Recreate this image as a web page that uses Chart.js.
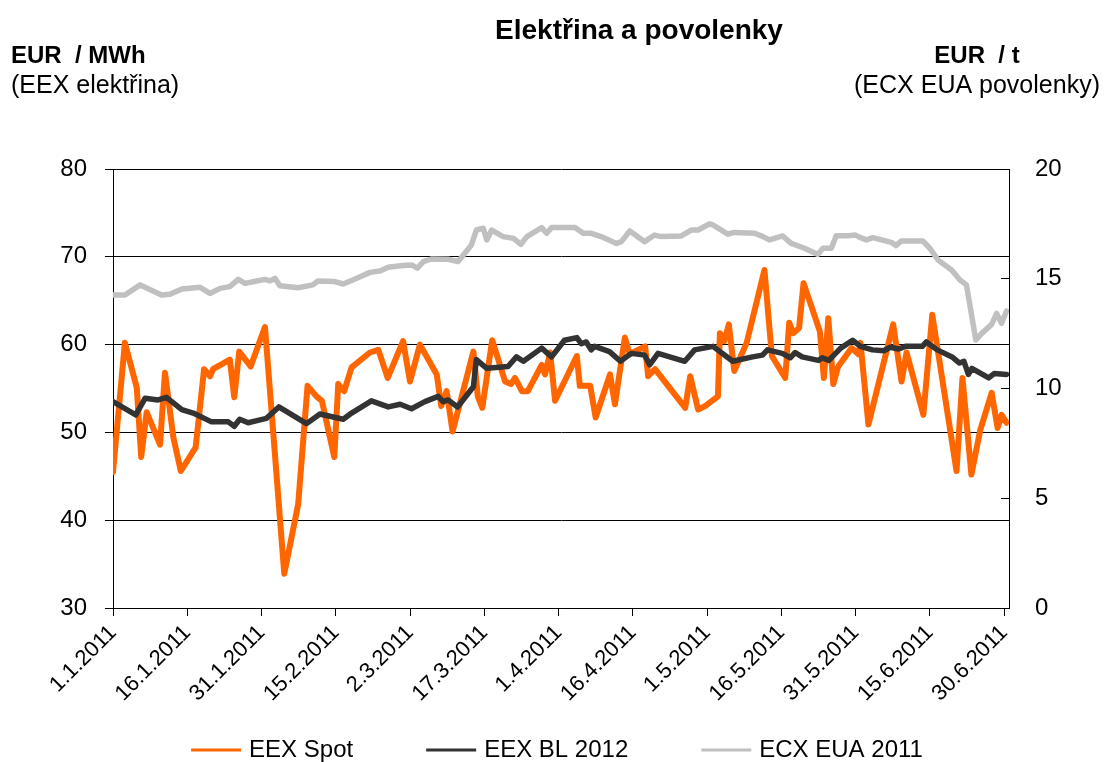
<!DOCTYPE html>
<html><head><meta charset="utf-8">
<script src="https://cdn.jsdelivr.net/npm/chart.js@4.4.1/dist/chart.umd.min.js"></script>
<style>html,body{margin:0;padding:0;overflow:hidden;background:#fff;width:1107px;height:762px}</style>
</head><body><canvas id="c" width="1107" height="762"></canvas>
<script>
// x = days since 1.1.2011
const tickDays = [0,15,30,45,60,75,90,105,120,135,150,165,180];
const tickLabels = ['1.1.2011','16.1.2011','31.1.2011','15.2.2011','2.3.2011','17.3.2011','1.4.2011','16.4.2011','1.5.2011','16.5.2011','31.5.2011','15.6.2011','30.6.2011'];
const leftTicks = [30,40,50,60,70,80];
const rightTicks = [0,5,10,15,20];
const seriesNames = ['EEX Spot','EEX BL 2012','ECX EUA 2011'];

const spotDays = [0,2.4,4.8,5.7,6.8,9.5,10.5,12.2,13.7,16.7,18.4,19.6,20.2,23.6,24.5,25.5,27.8,30.7,34.6,37.4,39.3,41.1,42.2,44.7,45.5,46.7,48.2,51.9,53.6,55.5,58.6,60.0,62.0,65.4,66.3,67.4,68.6,72.8,73.7,74.6,76.6,79.2,80.4,81.2,82.6,83.8,86.6,87.3,88.3,89.3,93.7,94.3,96.4,97.5,100.4,101.4,103.4,104.4,107.5,108.1,109.5,115.6,116.6,118.2,119.6,122.2,122.6,123.5,124.4,125.5,128.0,131.6,133.1,135.8,136.6,137.4,138.6,139.5,142.8,143.6,144.5,145.5,146.5,149.2,150.6,151.0,152.6,157.6,159.3,160.3,163.7,165.5,170.4,171.6,173.4,175.2,177.5,178.7,179.5,180.5];
const spotValues = [45.5,60.2,55.1,47.2,52.3,48.6,56.8,49.4,45.6,48.3,57.2,56.4,57.2,58.3,54.0,59.2,57.5,62.0,33.9,41.8,55.3,54.1,53.6,47.2,55.5,54.7,57.4,59.1,59.4,56.2,60.4,55.8,60.0,56.6,53.0,54.7,50.1,59.2,54.1,52.8,60.5,55.8,55.5,56.2,54.7,54.7,57.7,56.6,59.1,53.6,58.7,55.3,55.3,51.7,56.6,53.2,60.8,58.9,59.8,56.4,57.2,52.8,56.4,52.6,53.0,54.1,61.3,60.4,62.3,57.0,60.2,68.5,58.7,56.2,62.5,61.3,61.9,67.0,61.5,56.2,63.0,55.5,57.5,59.6,58.9,60.2,50.9,62.3,55.8,59.1,52.0,63.4,45.6,56.2,45.2,50.3,54.5,50.5,52.0,51.1];

const blDays = [0,4.6,6.5,9.1,10.8,13.9,16.2,19.9,23.3,24.5,25.6,27.3,29.5,31.0,33.5,39.1,41.8,46.5,48.2,52.2,55.6,58.0,60.3,63.0,65.7,66.7,67.7,69.6,72.8,73.4,75.5,79.8,81.5,82.9,86.6,88.6,91.2,93.7,94.6,95.6,96.6,97.3,100.3,102.5,104.7,107.4,108.4,110.1,115.5,117.5,121.2,125.2,129.2,131.2,132.2,135.2,136.8,137.8,139.2,142.5,143.3,144.6,147.0,149.4,151.0,153.4,155.7,157.0,158.7,160.1,163.5,164.3,166.5,169.5,171.0,171.9,172.8,173.5,176.9,178.0,180.5];
const blValues = [53.5,52.0,53.9,53.7,54.0,52.6,52.2,51.2,51.2,50.7,51.5,51.1,51.4,51.6,52.9,51.0,52.1,51.5,52.2,53.6,52.9,53.2,52.7,53.5,54.1,53.5,53.7,52.9,55.2,58.3,57.3,57.5,58.6,58.1,59.6,58.6,60.5,60.8,60.1,60.3,59.4,59.8,59.2,58.1,59.0,58.8,57.7,59.0,58.1,59.4,59.8,58.1,58.6,58.8,59.4,59.0,58.5,59.1,58.6,58.2,58.5,58.2,59.6,60.5,59.8,59.4,59.3,59.7,59.5,59.8,59.8,60.3,59.4,58.6,57.9,58.1,56.6,57.3,56.2,56.7,56.6];

const euaDays = [0,2.4,5.5,9.8,11.5,13.9,17.6,19.6,21.6,23.6,25.3,26.7,29.0,30.7,31.7,32.7,33.7,37.4,40.4,41.4,44.8,46.5,48.9,51.9,53.9,55.6,58.5,60.3,61.5,62.7,64.3,67.7,69.7,72.4,73.4,74.8,75.5,76.5,78.8,80.9,82.4,83.6,86.6,87.6,88.6,93.3,95.0,96.6,98.6,101.7,102.7,104.4,107.4,109.4,110.8,114.8,116.8,118.2,120.5,121.2,124.2,125.5,129.6,131.3,132.6,135.3,137.0,139.7,142.4,143.4,145.1,146.1,148.5,150.0,151.0,152.2,153.5,157.2,158.2,159.2,163.6,165.0,166.7,169.4,171.1,172.4,174.3,175.5,177.5,178.5,179.5,180.5];
const euaValues = [14.26,14.26,14.72,14.26,14.29,14.53,14.61,14.33,14.56,14.64,14.97,14.79,14.90,14.97,14.90,15.02,14.68,14.59,14.72,14.90,14.87,14.76,14.99,15.29,15.35,15.52,15.60,15.63,15.48,15.78,15.90,15.89,15.78,16.54,17.22,17.30,16.77,17.22,16.92,16.84,16.57,16.92,17.33,17.07,17.33,17.34,17.07,17.07,16.92,16.61,16.69,17.18,16.69,16.99,16.92,16.95,17.22,17.22,17.50,17.45,17.03,17.11,17.07,16.92,16.77,16.95,16.61,16.39,16.11,16.39,16.39,16.96,16.96,16.99,16.87,16.77,16.87,16.66,16.51,16.72,16.72,16.39,15.85,15.40,14.94,14.72,12.21,12.51,12.92,13.42,12.97,13.53];

const pts = (xs, ys) => xs.map((x, i) => ({x: x, y: ys[i]}));
const FONT = "'Liberation Sans', Arial, sans-serif";
Chart.defaults.font.family = FONT;
Chart.defaults.color = '#000';

const headerPlugin = {
  id: 'header',
  afterDraw(chart) {
    const ctx = chart.ctx;
    ctx.save();
    ctx.fillStyle = '#000';
    ctx.textBaseline = 'alphabetic';
    ctx.font = 'bold 28px ' + FONT;
    ctx.textAlign = 'center';
    ctx.fillText('Elektřina a povolenky', 639, 39);
    ctx.textAlign = 'left';
    ctx.font = 'bold 24px ' + FONT;
    ctx.fillText('EUR  / MWh', 11, 63);
    ctx.font = '25px ' + FONT;
    ctx.fillText('(EEX elektřina)', 11, 93);
    ctx.textAlign = 'center';
    ctx.font = 'bold 24px ' + FONT;
    ctx.fillText('EUR  / t', 977, 63);
    ctx.font = '25px ' + FONT;
    ctx.fillText('(ECX EUA povolenky)', 977, 93);
    ctx.restore();
  }
};

// Legend drawn from the chart's own datasets (line sample + label)
const legendPlugin = {
  id: 'lineLegend',
  afterDraw(chart) {
    const ctx = chart.ctx;
    const ds = chart.data.datasets;
    const sample = 50, gapText = 8, gapItem = 73, cy = 750;
    ctx.save();
    ctx.font = '24px ' + FONT;
    ctx.textBaseline = 'middle';
    ctx.textAlign = 'left';
    const widths = ds.map(d => ctx.measureText(d.label).width);
    const total = widths.reduce((a, w) => a + sample + gapText + w, 0) + gapItem * (ds.length - 1);
    let x = 557 - total / 2;
    ds.forEach((d, i) => {
      ctx.fillStyle = d.borderColor;
      ctx.fillRect(x, cy - 1.5, sample, 3);
      ctx.fillStyle = '#000';
      ctx.fillText(d.label, x + sample + gapText, cy);
      x += sample + gapText + widths[i] + gapItem;
    });
    ctx.restore();
  }
};

new Chart(document.getElementById('c'), {
  type: 'line',
  data: {
    datasets: [
      {label: seriesNames[0], data: pts(spotDays, spotValues), yAxisID: 'y', borderColor: '#FF6600', backgroundColor: '#FF6600', borderWidth: 6, order: 2},
      {label: seriesNames[1], data: pts(blDays, blValues), yAxisID: 'y', borderColor: '#333333', backgroundColor: '#333333', borderWidth: 5.5, order: 1},
      {label: seriesNames[2], data: pts(euaDays, euaValues), yAxisID: 'y1', borderColor: '#C0C0C0', backgroundColor: '#C0C0C0', borderWidth: 5.5, order: 0}
    ]
  },
  options: {
    responsive: false,
    animation: false,
    devicePixelRatio: 1,
    layout: {autoPadding: false, padding: {top: 169, left: 0, right: 0, bottom: 24}},
    elements: {
      point: {radius: 0, hoverRadius: 0},
      line: {tension: 0, fill: false, borderJoinStyle: 'round', borderCapStyle: 'round'}
    },
    plugins: {
      tooltip: {enabled: false},
      title: {display: false},
      legend: {display: false}
    },
    scales: {
      x: {
        type: 'linear',
        min: 0, max: 181,
        afterBuildTicks: (s) => { s.ticks = tickDays.map(v => ({value: v})); },
        afterFit: (s) => { s.height = 130; },
        ticks: {
          autoSkip: false, minRotation: 45, maxRotation: 45, padding: 4,
          font: {size: 22},
          callback: (v) => { const i = tickDays.indexOf(v); return i >= 0 ? tickLabels[i] : ''; }
        },
        grid: {drawOnChartArea: false, drawTicks: true, tickLength: 8, color: '#000'},
        border: {display: true, color: '#000', width: 1}
      },
      y: {
        position: 'left',
        min: 30, max: 80,
        afterBuildTicks: (s) => { s.ticks = leftTicks.map(v => ({value: v})); },
        afterFit: (s) => { s.width = 113; },
        ticks: {font: {size: 24}, padding: 18},
        grid: {color: '#000', lineWidth: 1, tickLength: 8},
        border: {display: true, color: '#000', width: 1}
      },
      y1: {
        position: 'right',
        min: 0, max: 20,
        afterBuildTicks: (s) => { s.ticks = rightTicks.map(v => ({value: v})); },
        afterFit: (s) => { s.width = 98; },
        ticks: {font: {size: 24}, padding: 34},
        grid: {drawOnChartArea: false, drawTicks: true, tickLength: -8, color: '#000'},
        border: {display: true, color: '#000', width: 1}
      }
    }
  },
  plugins: [headerPlugin, legendPlugin]
});
</script></body></html>
